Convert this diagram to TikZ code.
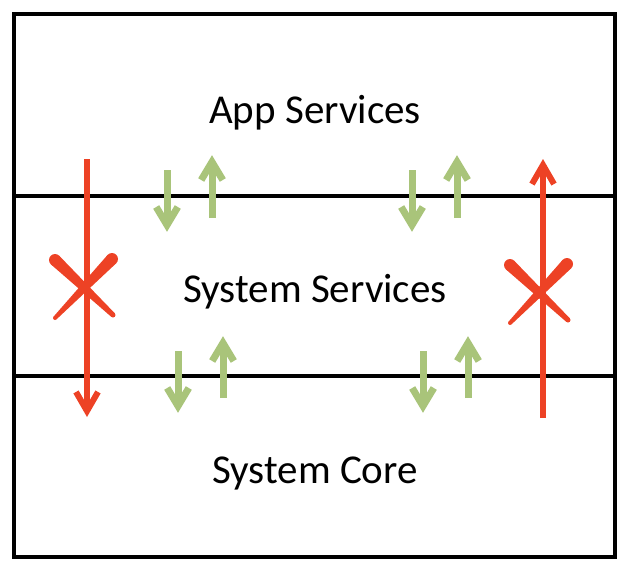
\documentclass[tikz,border=0pt]{standalone}
\usepackage{fontspec}
\setmainfont{Carlito}
\usetikzlibrary{calc}
\definecolor{xred}{RGB}{237,66,37}
\definecolor{agreen}{RGB}{169,196,122}
\newcommand\xstroke[4]{%
  \fill[xred] ($(#1)!#3!90:(#2)$) -- ($(#2)!#4!-90:(#1)$) -- ($(#2)!#4!90:(#1)$) -- ($(#1)!#3!-90:(#2)$) -- cycle;
  \fill[xred] (#1) circle[radius=#3];
  \fill[xred] (#2) circle[radius=#4];
}
\newcommand\crossmark[1]{%
  \begin{scope}[shift={(#1)}]
    \xstroke{-32,-23}{26,32}{6pt}{2.5pt}
    \xstroke{25,-24}{-32,35}{6pt}{2pt}
  \end{scope}
}
% open chevron arrow: style, start, tip, barb length, barb angle
\newcommand\openarrow[5]{%
  \draw[#1] (#2) -- (#3);
  \draw[#1,line join=miter] ($(#3)!#4!#5:(#2)$) -- (#3) -- ($(#3)!#4!-#5:(#2)$);
}
\begin{document}
\begin{tikzpicture}[x=1pt,y=-1pt,
  frame/.style={line width=3.5pt,black},
  redarrow/.style={xred,line width=6pt},
  greenarrow/.style={agreen,line width=7pt},
  layerlabel/.style={font=\fontsize{41}{49}\selectfont,anchor=base,inner sep=0pt}]
\useasboundingbox (0,0) rectangle (630,570);
% frame and layer separators
\draw[frame] (14,14) rectangle (615,557);
\draw[frame] (14,196) -- (615,196);
\draw[frame] (14,376) -- (615,376);
% labels
\node[layerlabel] (app) at (315,123) {App Services};
\node[layerlabel] (sys) at (315,302) {System Services};
\node[layerlabel] (core) at (315,483) {System Core};
% green arrows, upper boundary
\coordinate (g1s) at (167,170); \coordinate (g1e) at (167,225);
\coordinate (g2s) at (212,218); \coordinate (g2e) at (212,162);
\coordinate (g3s) at (412,170); \coordinate (g3e) at (412,225);
\coordinate (g4s) at (457,218); \coordinate (g4e) at (457,162);
% green arrows, lower boundary
\coordinate (g5s) at (178,351); \coordinate (g5e) at (178,406);
\coordinate (g6s) at (223,398); \coordinate (g6e) at (223,343);
\coordinate (g7s) at (423,351); \coordinate (g7e) at (423,406);
\coordinate (g8s) at (468,398); \coordinate (g8e) at (468,343);
\foreach \i in {1,...,8} {\openarrow{greenarrow}{g\i s}{g\i e}{21pt}{31}}
% red arrows
\coordinate (r1s) at (87,159); \coordinate (r1e) at (87,411);
\coordinate (r2s) at (543,418); \coordinate (r2e) at (543,165);
\openarrow{redarrow}{r1s}{r1e}{22pt}{30}
\openarrow{redarrow}{r2s}{r2e}{22pt}{30}
% crosses
\crossmark{87,283}
\crossmark{542,288}
\end{tikzpicture}
\end{document}
